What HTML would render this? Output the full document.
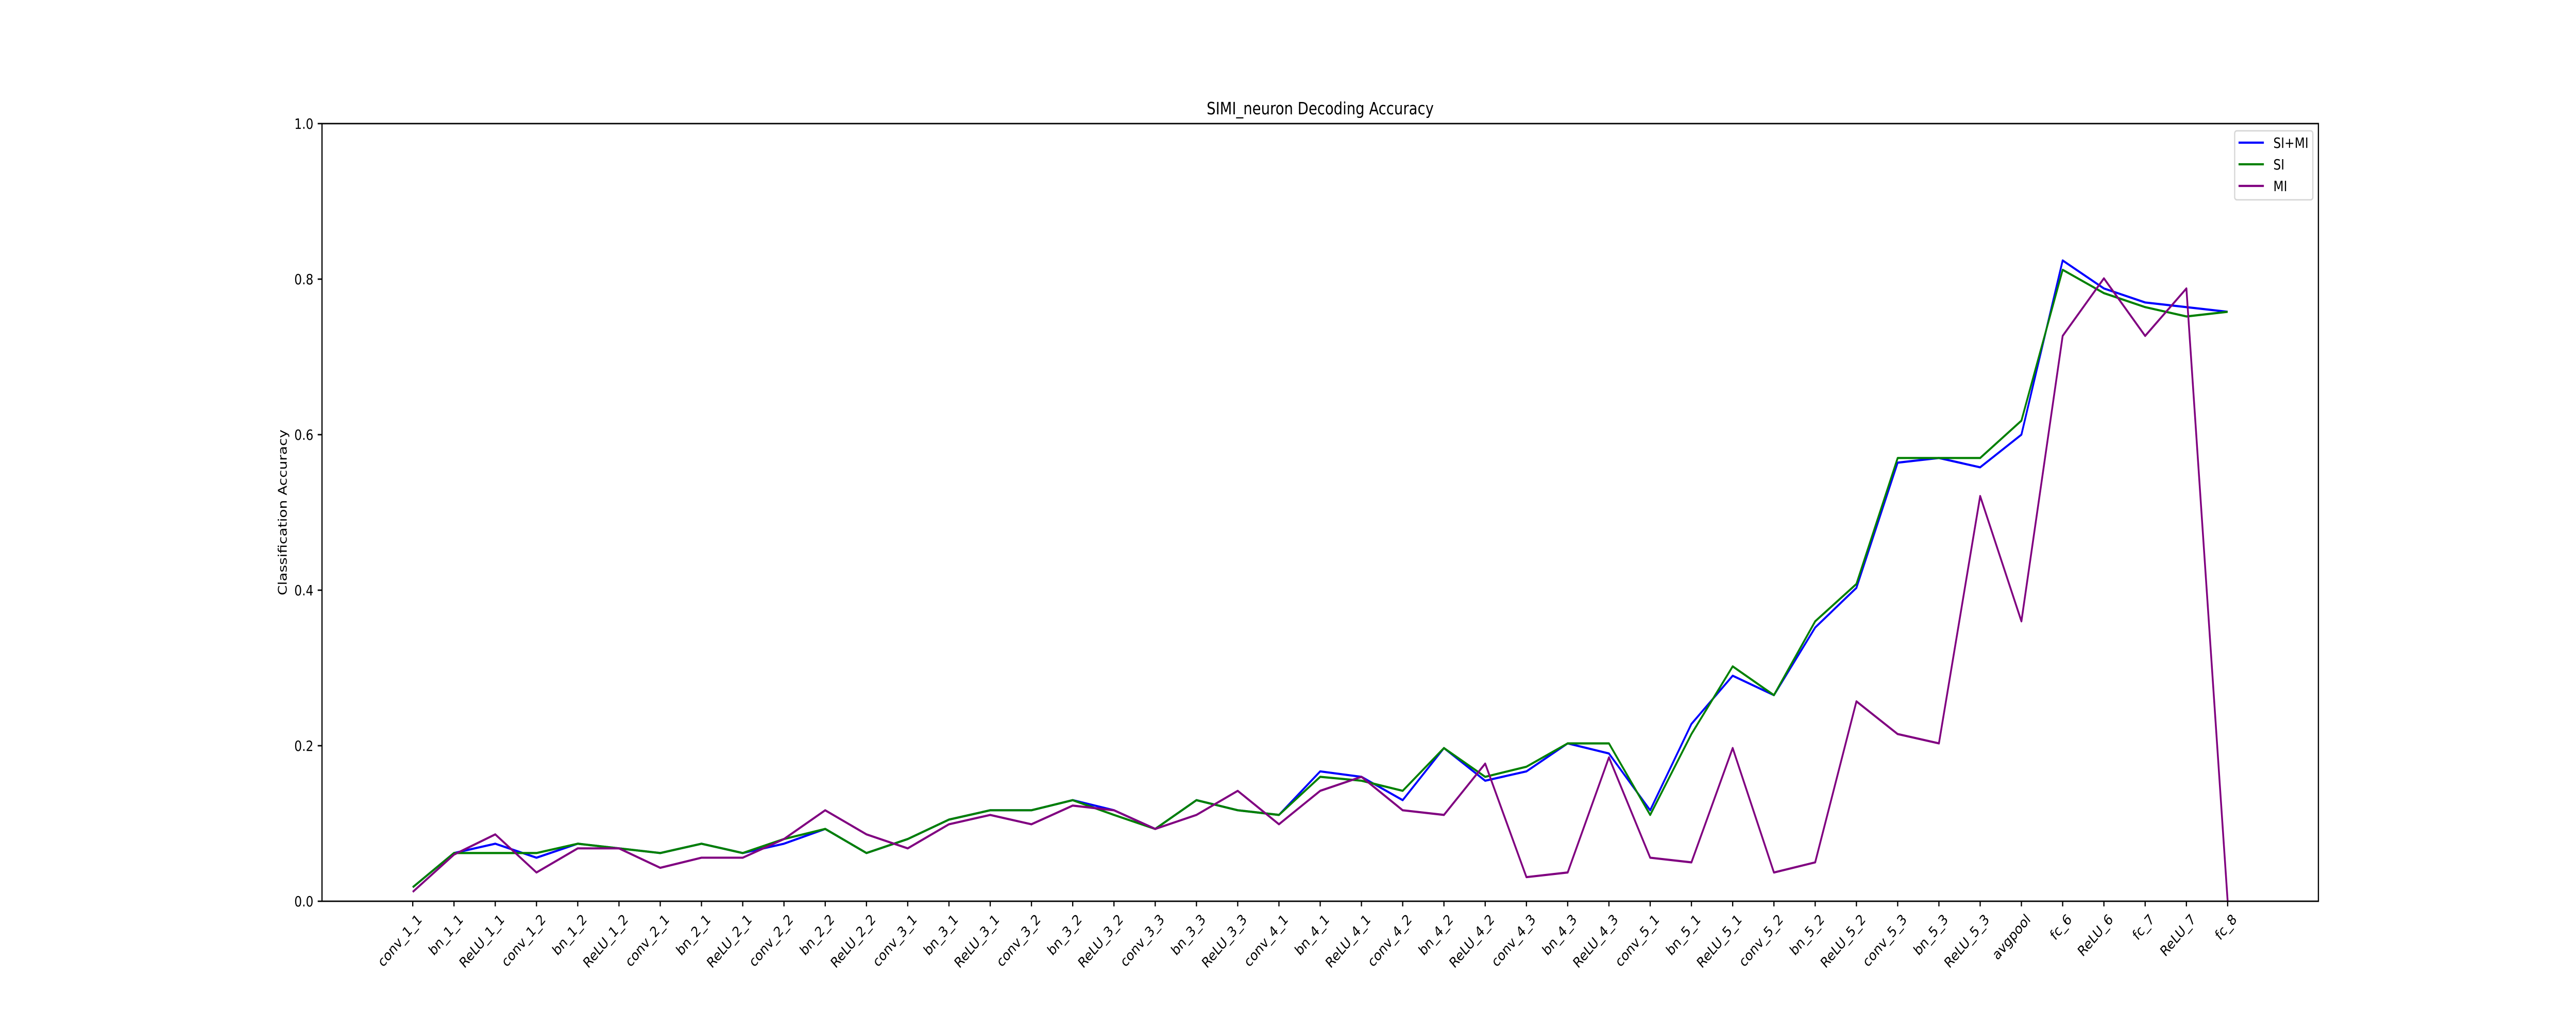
<!DOCTYPE html>
<html><head><meta charset="utf-8"><style>
html,body{margin:0;padding:0;background:#fff;overflow:hidden;width:100%;height:100%;}
#chart{display:block;width:100vw;height:100vh;}
svg text{font-family:"DejaVu Sans","Liberation Sans",sans-serif;fill:#000;}
</style></head><body>
<svg id="chart" viewBox="0 0 6000 2000" preserveAspectRatio="none" xmlns="http://www.w3.org/2000/svg">
<rect width="6000" height="2000" fill="#fff"/>
<text x="3075" y="222" font-size="33" text-anchor="middle">SIMI_neuron Decoding Accuracy</text>
<text transform="translate(668,995) rotate(-90)" font-size="28" text-anchor="middle">Classification Accuracy</text>
<g id="plot"></g>
</svg>
<script>
const categories = ["conv_1_1","bn_1_1","ReLU_1_1","conv_1_2","bn_1_2","ReLU_1_2","conv_2_1","bn_2_1","ReLU_2_1","conv_2_2","bn_2_2","ReLU_2_2","conv_3_1","bn_3_1","ReLU_3_1","conv_3_2","bn_3_2","ReLU_3_2","conv_3_3","bn_3_3","ReLU_3_3","conv_4_1","bn_4_1","ReLU_4_1","conv_4_2","bn_4_2","ReLU_4_2","conv_4_3","bn_4_3","ReLU_4_3","conv_5_1","bn_5_1","ReLU_5_1","conv_5_2","bn_5_2","ReLU_5_2","conv_5_3","bn_5_3","ReLU_5_3","avgpool","fc_6","ReLU_6","fc_7","ReLU_7","fc_8"];
const siMi = [0.018,0.062,0.074,0.056,0.074,0.068,0.062,0.074,0.062,0.074,0.093,0.062,0.080,0.105,0.117,0.117,0.130,0.117,0.093,0.130,0.117,0.111,0.167,0.160,0.130,0.197,0.155,0.167,0.203,0.190,0.117,0.228,0.290,0.265,0.352,0.403,0.564,0.570,0.558,0.600,0.824,0.788,0.770,0.764,0.758];
const si = [0.018,0.062,0.062,0.062,0.074,0.068,0.062,0.074,0.062,0.080,0.093,0.062,0.080,0.105,0.117,0.117,0.130,0.111,0.093,0.130,0.117,0.111,0.160,0.155,0.142,0.197,0.160,0.173,0.203,0.203,0.111,0.215,0.302,0.265,0.360,0.408,0.570,0.570,0.570,0.618,0.812,0.782,0.764,0.752,0.758];
const mi = [0.012,0.060,0.086,0.037,0.068,0.068,0.043,0.056,0.056,0.080,0.117,0.086,0.068,0.099,0.111,0.099,0.123,0.117,0.093,0.111,0.142,0.099,0.142,0.160,0.117,0.111,0.177,0.031,0.037,0.185,0.056,0.050,0.197,0.037,0.050,0.257,0.215,0.203,0.521,0.360,0.727,0.801,0.727,0.788,0.0];
const yTicks = [0.0,0.2,0.4,0.6,0.8,1.0];
const yTickLabels = ["0.0","0.2","0.4","0.6","0.8","1.0"];

const NS="http://www.w3.org/2000/svg";
const L=750,R=5400,T=240,B=1750;
const n=categories.length;
const xs=(i)=>{const span=(n-1)*1.1;return L+((i+(n-1)*0.05)/span)*(R-L);};
const ys=(v)=>B-v*(B-T);
const g=document.getElementById('plot');
function mk(tag,attrs){const e=document.createElementNS(NS,tag);for(const k in attrs)e.setAttribute(k,attrs[k]);return e;}

const series=[["siMi-line",siMi,"#0000ff"],["si-line",si,"#008000"],["mi-line",mi,"#800080"]];
series.forEach(([name,vals,col])=>{
  const p=mk('polyline',{points:vals.map((v,i)=>xs(i)+','+ys(v)).join(' '),fill:'none',stroke:col,'stroke-width':4.2,'stroke-linejoin':'round'});
  
  
  g.appendChild(p);
});

const frame=mk('rect',{x:L,y:T,width:R-L,height:B-T,fill:'none',stroke:'#000','stroke-width':2.8});


g.appendChild(frame);

yTicks.forEach((v,i)=>{
  const t=mk('line',{x1:L-10,x2:L,y1:ys(v),y2:ys(v),stroke:'#000','stroke-width':2.8});
  
  
  g.appendChild(t);
  const tx=mk('text',{x:L-20,y:ys(v)+10,'font-size':28,'text-anchor':'end'});
  tx.textContent=yTickLabels[i];
  
  
  g.appendChild(tx);
});

categories.forEach((c,i)=>{
  const x=xs(i);
  const t=mk('line',{x1:x,x2:x,y1:B,y2:B+10,stroke:'#000','stroke-width':2.8});
  
  
  g.appendChild(t);
  const tx=mk('text',{transform:'translate('+(x+8)+','+(B+22)+') rotate(-45)','font-size':28,'text-anchor':'end','dy':'0.75em'});
  tx.textContent=c;
  
  
  g.appendChild(tx);
});

const leg=mk('g',{});


g.appendChild(leg);
const box=mk('rect',{x:5205,y:254,width:182,height:134,rx:5,fill:'#fff','fill-opacity':0.8,stroke:'#d6d6d6','stroke-width':2.8});


leg.appendChild(box);
const legLabels=["SI+MI","SI","MI"];
series.forEach(([name,vals,col],k)=>{
  const yy=277+k*42;
  const ln=mk('line',{x1:5214,x2:5273,y1:yy,y2:yy,stroke:col,'stroke-width':4.2});
  
  
  leg.appendChild(ln);
  const tx=mk('text',{x:5295,y:yy+10,'font-size':28});
  tx.textContent=legLabels[k];
  
  
  leg.appendChild(tx);
});
</script>
</body></html>
